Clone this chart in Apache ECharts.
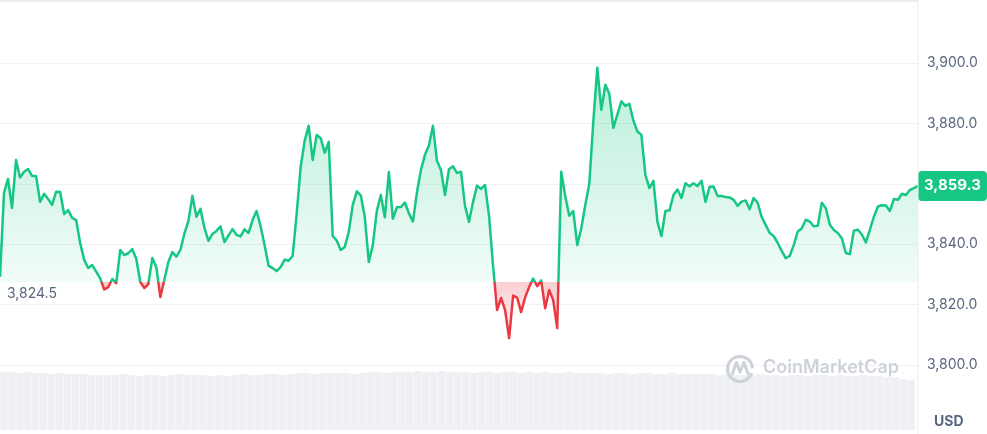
<!DOCTYPE html>
<html><head><meta charset="utf-8">
<script src="https://cdn.jsdelivr.net/npm/echarts@6/dist/echarts.min.js"></script>
<style>html,body{margin:0;padding:0;background:#fff;}#c{width:987px;height:434px;}</style>
</head><body><div id="c"></div>
<script>
// ---- data ----
const prices = [
3829.2,3857.0,3861.6,3852.0,3867.9,3862.1,3864.0,3864.9,3862.6,3862.6,
3854.0,3856.7,3855.0,3853.0,3857.4,3857.3,3850.0,3851.3,3848.7,3848.0,
3840.4,3834.8,3832.1,3833.1,3830.9,3828.7,3825.0,3825.8,3828.5,3827.1,
3838.1,3836.4,3837.0,3838.4,3835.1,3827.5,3825.5,3826.8,3835.4,3832.4,
3822.5,3828.2,3834.1,3837.4,3835.9,3838.1,3843.5,3847.7,3856.0,3849.1,
3851.7,3845.4,3841.1,3843.4,3844.4,3845.9,3840.7,3842.9,3845.0,3843.1,
3842.6,3844.9,3843.7,3848.0,3851.0,3846.0,3839.7,3832.9,3832.1,3831.1,
3832.4,3834.9,3834.5,3836.1,3850.0,3865.6,3874.2,3879.2,3867.9,3876.2,
3875.1,3870.3,3873.9,3842.7,3841.2,3838.1,3839.1,3844.1,3853.0,3857.5,
3856.2,3849.0,3834.1,3839.7,3851.0,3856.3,3848.9,3863.9,3848.4,3852.2,
3852.3,3853.8,3850.2,3847.5,3857.1,3864.6,3869.6,3872.7,3879.2,3867.6,
3864.6,3856.3,3864.8,3865.8,3863.6,3864.0,3852.7,3847.4,3854.0,3859.4,
3858.3,3859.6,3849.3,3832.8,3818.2,3822.2,3818.2,3808.9,3823.0,3822.3,
3817.5,3822.4,3825.8,3828.6,3826.1,3828.0,3818.8,3824.8,3821.5,3812.2,
3864.0,3856.0,3849.4,3851.0,3839.7,3845.2,3853.0,3860.0,3880.5,3898.4,
3884.5,3892.8,3889.8,3878.5,3882.9,3887.3,3885.8,3886.5,3880.9,3877.3,
3876.2,3863.0,3858.6,3861.0,3847.4,3842.7,3851.0,3851.2,3856.3,3858.1,
3855.3,3860.2,3859.2,3860.2,3859.3,3861.0,3854.0,3859.0,3859.1,3856.0,
3856.0,3855.6,3855.5,3854.7,3852.7,3854.1,3854.5,3851.6,3855.3,3853.7,
3849.0,3846.4,3843.7,3842.7,3840.4,3837.8,3835.4,3836.1,3839.7,3844.2,
3845.2,3848.1,3847.5,3845.9,3846.1,3853.7,3851.9,3846.5,3844.7,3843.7,
3842.0,3837.1,3836.7,3844.5,3844.8,3843.2,3840.6,3844.8,3849.1,3852.5,
3852.9,3852.8,3851.0,3855.0,3854.7,3856.7,3856.3,3858.0,3858.6,3859.3
];
const volumes = [
58,58,57,58,57,57,56,57,56,56,56,55,55,
55,55,56,55,54,55,55,54,55,56,55,55,55,54,55,54,55,56,55,55,56,56,55,56,57,57,56,57,57,
57,57,56,57,58,58,57,58,58,58,59,58,58,59,58,58,58,57,58,58,57,58,58,57,58,57,58,57,57,
58,57,57,57,57,56,57,57,56,57,57,56,56,57,56,56,56,
56,56,55,56,55,55,55,56,55,55,54,55,55,54,55,55,54,55,54,54,55,54,54,53,53,51,50
];
const baseline = 3827.5;          // open-price reference line
const openLabel = '3,824.5';
const yMin = 3800, yMax = 3900, yStep = 20;
const hiddenTicks = [3860];
const currency = 'USD';
const brand = 'CoinMarketCap';

const GREEN = '#16c784', RED = '#ea3943', GREY = '#58667e', LINE = '#eff2f5';
const FONT = 'Inter, "Noto Sans", sans-serif';
const fmt = v => v.toLocaleString('en-US', {minimumFractionDigits:1, maximumFractionDigits:1});
const categories = prices.map((_, i) => i);
const volCats = volumes.map((_, i) => i);
const last = prices[prices.length - 1];

const chart = echarts.init(document.getElementById('c'), null, {renderer: 'canvas'});
const option = {
  animation: false,
  backgroundColor: '#fff',
  textStyle: {fontFamily: FONT},
  grid: [
    {left: 0, right: 69, top: 63, bottom: 69},
    {left: 0, right: 72, top: 368, bottom: 4}
  ],
  xAxis: [
    {type: 'category', data: categories, boundaryGap: false, show: false, gridIndex: 0},
    {type: 'category', data: volCats, boundaryGap: true, show: false, gridIndex: 1}
  ],
  yAxis: [
    {type: 'value', position: 'right', min: yMin, max: yMax, interval: yStep, gridIndex: 0,
     axisLine: {show: false}, axisTick: {show: false},
     splitLine: {lineStyle: {color: LINE, width: 1}},
     axisLabel: {margin: 9, color: GREY, fontSize: 14, fontFamily: FONT,
       formatter: v => hiddenTicks.includes(v) ? '' : fmt(v)}},
    {type: 'value', min: 0, max: 62, show: false, gridIndex: 1}
  ],
  series: [
    {
      id: 'price', type: 'line', data: prices, xAxisIndex: 0, yAxisIndex: 0,
      showSymbol: false, symbol: 'none', smooth: false, z: 5,
      lineStyle: {width: 2.5, color: GREEN, join: 'round'},
      areaStyle: {origin: baseline, opacity: 1, color: 'rgba(22,199,132,0.15)'},
      markLine: {
        silent: true, symbol: 'none',
        lineStyle: {color: 'transparent', width: 0},
        data: [
          {yAxis: baseline, label: {show: true, position: 'insideStartBottom', formatter: openLabel,
            color: GREY, fontSize: 14, fontFamily: FONT, backgroundColor: '#fff',
            padding: [3, 5, 3, 5], borderRadius: 4, distance: 2}},
          {yAxis: last, label: {show: true, position: 'end', distance: 0, formatter: fmt(last),
            color: '#fff', fontSize: 15, fontWeight: 'bold', fontFamily: FONT,
            backgroundColor: GREEN, padding: [8, 6, 7, 6], borderRadius: 4}}
        ]
      }
    },
    {
      type: 'bar', data: volumes, xAxisIndex: 1, yAxisIndex: 1, silent: true,
      barCategoryGap: '6%', itemStyle: {color: '#eef0f3'}, z: 1
    }
  ],
  graphic: [
    {type: 'rect', shape: {x: 0, y: 0, width: 918, height: 2}, style: {fill: '#eaedf1'}, z: 50},
    {type: 'rect', shape: {x: 917.5, y: 0, width: 1, height: 434}, style: {fill: '#eaedf1'}, z: 50},
    {type: 'text', left: 934, top: 415, style: {text: currency, fill: GREY, font: 'bold 14px ' + FONT}, z: 50},
    {type: 'group', z: 60, children: [
      {type: 'arc', shape: {cx: 740, cy: 369, r: 12.5, startAngle: 0.35, endAngle: Math.PI * 2 - 0.05},
       style: {stroke: '#cdd2da', lineWidth: 3, fill: null}, z: 60},
      {type: 'polyline', shape: {points: [[732, 375], [736.5, 362.5], [740, 372], [744, 362.5], [748.5, 375]]},
       style: {stroke: '#cdd2da', lineWidth: 3, fill: null, lineJoin: 'round'}, z: 60},
      {type: 'text', left: 763, top: 359, style: {text: brand, fill: '#cdd2da', font: '600 18px ' + FONT}, z: 60}
    ]}
  ]
};
chart.setOption(option);

// Colour the line and fill by the open price through the library's own y scale
const yTop = chart.convertToPixel({yAxisIndex: 0}, Math.max(...prices));
const yBase = chart.convertToPixel({yAxisIndex: 0}, baseline);
const yBot = chart.convertToPixel({yAxisIndex: 0}, Math.min(...prices));
const off = (yBase - yTop) / (yBot - yTop);
const lOff = (yBase - yTop + 4) / (yBot - yTop + 8);
const lineGrad = {
  type: 'linear', x: 0, y: yTop - 4, x2: 0, y2: yBot + 4, global: true,
  colorStops: [
    {offset: 0, color: GREEN},
    {offset: lOff, color: GREEN},
    {offset: lOff + 0.0001, color: RED},
    {offset: 1, color: RED}
  ]
};
chart.setOption({series: [{id: 'price',
  lineStyle: {width: 2.5, color: lineGrad, join: 'round'},
  areaStyle: {origin: baseline, opacity: 1, color: {
  type: 'linear', x: 0, y: yTop, x2: 0, y2: yBot, global: true,
  colorStops: [
    {offset: 0, color: 'rgba(22,199,132,0.30)'},
    {offset: Math.max(0, off - 0.0005), color: 'rgba(22,199,132,0.06)'},
    {offset: off, color: 'rgba(234,57,67,0.24)'},
    {offset: 1, color: 'rgba(234,57,67,0.04)'}
  ]}}}]});
</script></body></html>
